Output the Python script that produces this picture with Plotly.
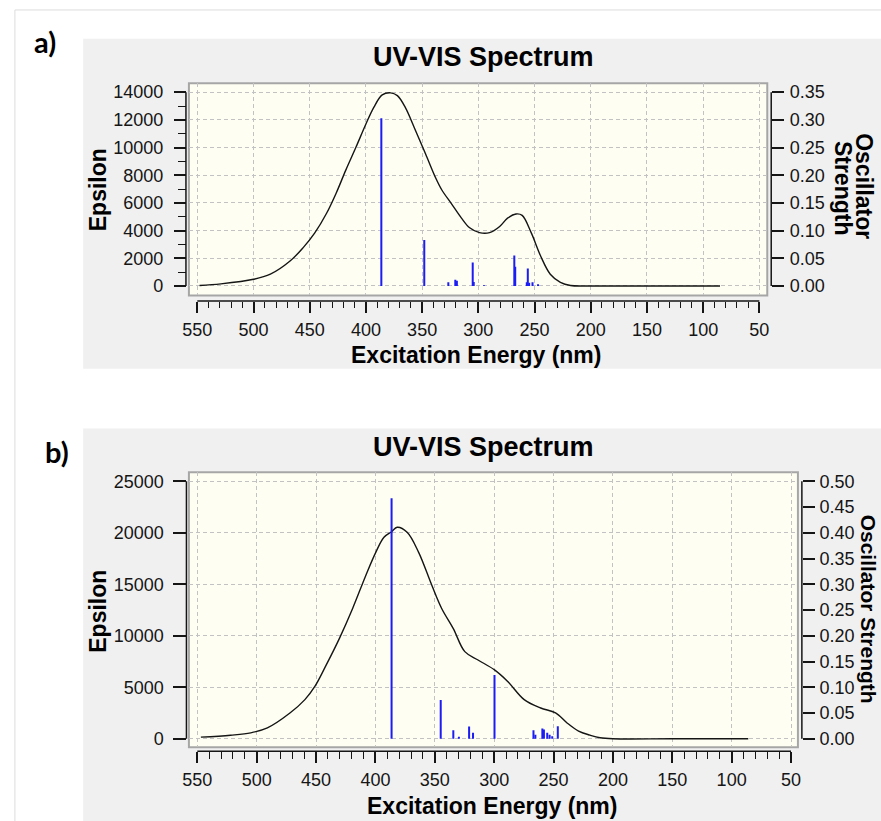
import plotly.graph_objects as go

W, H = 881, 821

# ---- Panel a: simulated UV-VIS spectrum ----
a_nm = [548, 529, 500, 485, 467.5, 456, 445.5, 435, 426.5, 418, 409, 400, 393,
        385.5, 378, 372, 365, 356, 347, 338.5, 332.6, 324, 315, 307.7, 299, 290,
        281, 274, 266.5, 261, 253, 244.5, 236, 227, 218, 200, 150, 100, 85]
a_eps = [30, 150, 480, 850, 1800, 2750, 3830, 5250, 6700, 8350, 10000, 11700, 12900,
         13800, 13950, 13750, 12900, 11250, 9550, 7900, 6950, 5950, 4900, 4200, 3850, 3850,
         4300, 4900, 5200, 5100, 3850, 2150, 850, 260, 30, 0, 0, 0, 0]
a_stick_nm = [386.3, 348.1, 326.7, 320.5, 319.1, 305.0, 304.1, 295.0,
              268.0, 267.2, 256.9, 256.0, 254.8, 251.8, 246.9]
a_stick_f = [0.303, 0.083, 0.0066, 0.0113, 0.0095, 0.0423, 0.007, 0.0015,
             0.055, 0.0345, 0.0066, 0.0316, 0.006, 0.0066, 0.003]

# ---- Panel b: simulated UV-VIS spectrum ----
b_nm = [547, 522, 505, 491, 472, 459.4, 451, 441.4, 430.3, 419.2, 408.1, 399.7, 392.8,
        386.4, 381.7, 373.3, 363.6, 352.5, 344.2, 334.4, 324.7, 313.6, 299.7, 288.6,
        274.7, 260.8, 248.3, 238.6, 228.9, 219.2, 210.8, 200, 150, 100, 86]
b_eps = [160, 350, 580, 1060, 2500, 3800, 5080, 7170, 9750, 12650, 15860, 18100, 19560,
         20100, 20530, 20050, 18100, 14900, 12650, 10700, 8460, 7650, 6690, 5570,
         3800, 2990, 2510, 1540, 740, 350, 100, 0, 0, 0, 0]
b_stick_nm = [386.4, 345.0, 334.4, 329.7, 321.1, 317.8, 299.7,
              266.9, 265.3, 259.4, 258.1, 255.3, 253.3, 251.1, 246.4]
b_stick_f = [0.467, 0.0753, 0.0168, 0.004, 0.0237, 0.0116, 0.124,
             0.0168, 0.008, 0.02, 0.018, 0.0116, 0.008, 0.005, 0.0245]

x_ticks = [550, 500, 450, 400, 350, 300, 250, 200, 150, 100, 50]

FONT = "Liberation Sans"
INK = "#151515"
GRID = "#c2c2c2"
CREAM = "#fefef2"
PANEL = "#f0f0f0"
STICK = "#1c1cf4"


def px(x):
    return x / W


def py(y):
    return 1 - y / H


def stick_xy(nm, f):
    xs, ys = [], []
    for x, v in zip(nm, f):
        xs += [x, x, None]
        ys += [0, v, None]
    return xs, ys


fig = go.Figure()

fig.add_trace(go.Scatter(x=a_nm, y=a_eps, mode="lines", xaxis="x", yaxis="y",
                         line=dict(color=INK, width=1.4), line_shape="spline",
                         hoverinfo="skip", showlegend=False))
sx, sy = stick_xy(a_stick_nm, a_stick_f)
fig.add_trace(go.Scatter(x=sx, y=sy, mode="lines", xaxis="x", yaxis="y2",
                         line=dict(color=STICK, width=2), hoverinfo="skip",
                         showlegend=False))

fig.add_trace(go.Scatter(x=b_nm, y=b_eps, mode="lines", xaxis="x2", yaxis="y3",
                         line=dict(color=INK, width=1.4), line_shape="spline",
                         hoverinfo="skip", showlegend=False))
sx, sy = stick_xy(b_stick_nm, b_stick_f)
fig.add_trace(go.Scatter(x=sx, y=sy, mode="lines", xaxis="x2", yaxis="y4",
                         line=dict(color=STICK, width=2), hoverinfo="skip",
                         showlegend=False))

tickfont = dict(family=FONT, size=18, color=INK)


def x_axis(frame_l, frame_r, x550, x50, axis_y, minor_len):
    scale = (x50 - x550) / 500.0
    rng = [550 + (x550 - frame_l) / scale, 50 - (frame_r - x50) / scale]
    return dict(domain=[px(frame_l), px(frame_r)], range=rng, anchor="free",
                position=py(axis_y), tickmode="array", tickvals=x_ticks,
                ticks="outside", ticklen=11, tickwidth=1.5, tickcolor=INK,
                minor=dict(dtick=10, tick0=50, ticks="outside", ticklen=minor_len,
                           tickwidth=1.3, tickcolor=INK, showgrid=False),
                showgrid=True, gridcolor=GRID, griddash="4px,3px", gridwidth=1,
                showline=False, zeroline=False, tickfont=tickfont,
                ticklabelstandoff=1)


def y_range(frame_t, frame_b, y0, ytop, vtop):
    scale = (y0 - ytop) / vtop
    return [-(frame_b - y0) / scale, (y0 - frame_t) / scale]


# frames (px)
A = dict(l=184, r=769, t=82.5, b=295.5)
B = dict(l=184, r=800, t=473, b=749)

ya_rng = y_range(A["t"], A["b"], 286, 91.5, 14000)
yb_rng = y_range(B["t"], B["b"], 740.5, 482, 25000)

fig.update_layout(
    width=W, height=H, autosize=False,
    margin=dict(l=0, r=0, t=0, b=0),
    paper_bgcolor="white", plot_bgcolor="rgba(0,0,0,0)",
    xaxis=x_axis(A["l"], A["r"], 192.5, 761, 301, 6),
    yaxis=dict(domain=[py(A["b"]), py(A["t"])], range=ya_rng, anchor="free",
               position=px(181), tickmode="linear", tick0=0, dtick=2000,
               tickformat="d", ticks="outside", ticklen=12, tickwidth=1.5,
               tickcolor=INK,
               minor=dict(dtick=1000, tick0=0, ticks="outside", ticklen=8,
                          tickwidth=1.3, tickcolor=INK, showgrid=False),
               showgrid=True, gridcolor=GRID, griddash="4px,3px", gridwidth=1,
               showline=False, zeroline=False, tickfont=tickfont,
               ticklabelstandoff=7),
    yaxis2=dict(overlaying="y", side="right", anchor="free", position=px(773),
                range=[v / 40000 for v in ya_rng], tickmode="linear", tick0=0,
                dtick=0.05, tickformat=".2f", ticks="outside", ticklen=12,
                tickwidth=1.5, tickcolor=INK, showgrid=False, showline=False,
                zeroline=False, tickfont=tickfont, ticklabelstandoff=2),
    xaxis2=x_axis(B["l"], B["r"], 192.5, 793, 753, 7),
    yaxis3=dict(domain=[py(B["b"]), py(B["t"])], range=yb_rng, anchor="free",
                position=px(181.5), tickmode="linear", tick0=0, dtick=5000,
                tickformat="d", ticks="outside", ticklen=13, tickwidth=1.5,
                tickcolor=INK, showgrid=True, gridcolor=GRID, griddash="4px,3px",
                gridwidth=1, showline=False, zeroline=False, tickfont=tickfont,
                ticklabelstandoff=6),
    yaxis4=dict(overlaying="y3", side="right", anchor="free", position=px(804),
                range=[v / 50000 for v in yb_rng], tickmode="linear", tick0=0,
                dtick=0.05, tickformat=".2f", ticks="outside", ticklen=12,
                tickwidth=1.5, tickcolor=INK, showgrid=False, showline=False,
                zeroline=False, tickfont=tickfont, ticklabelstandoff=1),
)

shapes = [
    # outer figure border
    dict(type="rect", xref="paper", yref="paper", x0=px(8), x1=px(900), y0=py(9),
         y1=py(900), line=dict(color="#dcdcdc", width=1), fillcolor="white",
         layer="below"),
    # grey panels
    dict(type="rect", xref="paper", yref="paper", x0=px(77), x1=px(900), y0=py(38),
         y1=py(369), line=dict(width=0), fillcolor=PANEL, layer="below"),
    dict(type="rect", xref="paper", yref="paper", x0=px(77), x1=px(900), y0=py(429),
         y1=py(900), line=dict(width=0), fillcolor=PANEL, layer="below"),
]
for fr in (A, B):
    shapes.append(dict(type="rect", xref="paper", yref="paper", x0=px(fr["l"]),
                       x1=px(fr["r"]), y0=py(fr["b"]), y1=py(fr["t"]),
                       line=dict(color="#a6a6a6", width=2), fillcolor=CREAM,
                       layer="below"))

axis_line = dict(color=INK, width=1.5)
# offset axis spines, spanning the tick range only
shapes += [
    dict(type="line", xref="paper", yref="y", x0=px(181), x1=px(181), y0=0, y1=14000,
         line=axis_line),
    dict(type="line", xref="paper", yref="y2", x0=px(773), x1=px(773), y0=0, y1=0.35,
         line=axis_line),
    dict(type="line", xref="x", yref="paper", x0=550, x1=50, y0=py(301), y1=py(301),
         line=axis_line),
    dict(type="line", xref="paper", yref="y3", x0=px(181.5), x1=px(181.5), y0=0,
         y1=25000, line=axis_line),
    dict(type="line", xref="paper", yref="y4", x0=px(804), x1=px(804), y0=0, y1=0.5,
         line=axis_line),
    dict(type="line", xref="x2", yref="paper", x0=550, x1=50, y0=py(753), y1=py(753),
         line=axis_line),
]
fig.update_layout(shapes=shapes)


def label(text, x, y, size, angle=0, family=FONT):
    fig.add_annotation(text=text, xref="paper", yref="paper", x=px(x), y=py(y),
                       xanchor="center", yanchor="middle", showarrow=False,
                       textangle=angle, font=dict(family=family, size=size,
                                                  color="black"))


label("<b>a)</b>", 38.5, 40.5, 29, family="Lato")
label("<b>b)</b>", 51, 452, 29, family="Lato")

label("<b>UV-VIS Spectrum</b>", 482, 56, 27)
label("<b>Excitation Energy (nm)</b>", 474.5, 355, 23)
label("<b>Epsilon</b>", 92, 189, 23, angle=-90)
label("<b>Strength</b>", 845, 188, 23, angle=90)
label("<b>Oscillator</b>", 867, 186, 23, angle=90)

label("<b>UV-VIS Spectrum</b>", 482, 447.5, 27)
label("<b>Excitation Energy (nm)</b>", 491, 808, 23)
label("<b>Epsilon</b>", 92, 612, 23, angle=-90)
label("<b>Oscillator Strength</b>", 871, 610, 21, angle=90)

fig.write_html("out.html")
